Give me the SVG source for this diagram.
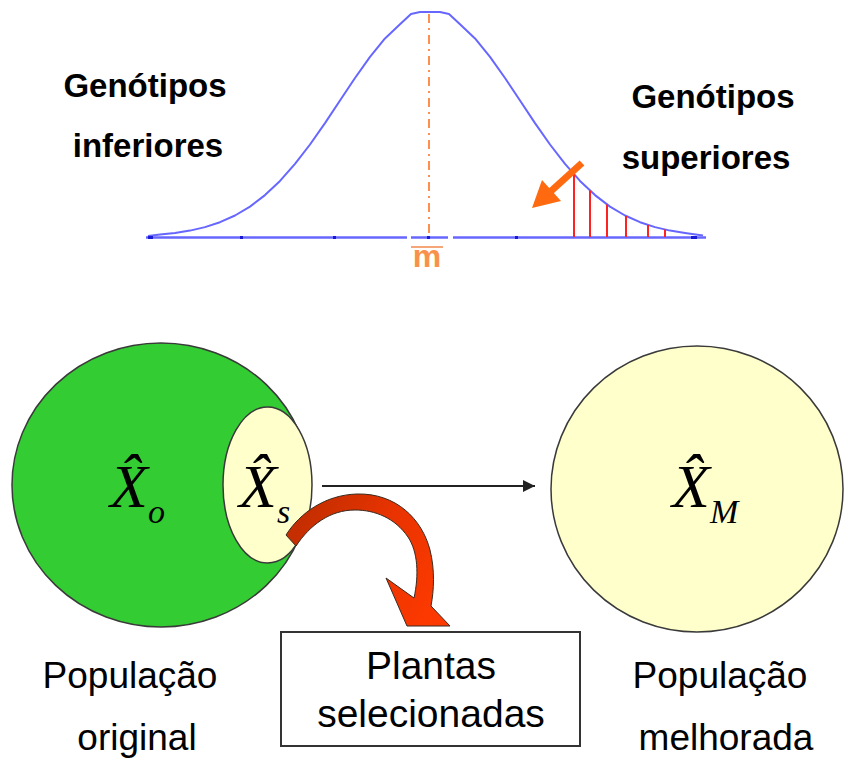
<svg xmlns="http://www.w3.org/2000/svg" width="844" height="763" viewBox="0 0 844 763">
  <defs>
    <style>
      .lbl { font-family: "Liberation Sans", Arial, sans-serif; fill: #000; text-anchor: middle; }
      .top { font-size: 33px; font-weight: bold; }
      .bot { font-size: 37px; }
      .box { font-size: 39px; }
      .math { font-family: "Liberation Serif", "Times New Roman", serif; font-style: italic; fill: #000; }
      .X { font-size: 62px; }
      .sub { font-size: 34px; }
      .curve { fill: none; stroke: #6767ff; stroke-width: 2; stroke-linejoin: round; }
      .red { stroke: #ff2222; stroke-width: 2; }
      .tick { fill: #1a1ad6; }
      .circ { stroke: #3a3a3a; stroke-width: 1.5; }
    </style>
    <marker id="ah" viewBox="0 0 12 12" refX="12" refY="6" markerWidth="12" markerHeight="12" markerUnits="userSpaceOnUse" orient="auto">
      <path d="M0,0 L12,6 L0,12 Z" fill="#222"/>
    </marker>
    <linearGradient id="redg" x1="290" y1="540" x2="440" y2="620" gradientUnits="userSpaceOnUse">
      <stop offset="0" stop-color="#c42e00"/>
      <stop offset="0.45" stop-color="#e83300"/>
      <stop offset="1" stop-color="#ff3a00"/>
    </linearGradient>
  </defs>
  <rect width="844" height="763" fill="#fff"/>

  <!-- Top: distribution curve -->
  <g id="distribution">
    <polyline class="curve" points="148,236 160,234.5 175,232.9 190,230.6 205,227.1 220,222.2 235,215.5 250,206.6 265,195.1 280,180.9 295,163.9 310,144.5 325,123.1 340,100.5 355,78 370,56.8 385,38.4 400,24.2 411,14 420,12 440,12 449,14 460,24.2 475,38.4 490,56.8 505,78 520,100.5 535,123.1 550,144.5 565,163.9 580,180.9 595,195.1 610,206.6 625,215.5 640,222.2 655,227.1 670,230.6 685,232.9 703,235.5"/>
    <g stroke="#6767ff" stroke-width="2.5">
      <line x1="146" y1="237.5" x2="407" y2="237.5"/>
      <line x1="411" y1="237.5" x2="448" y2="237.5"/>
      <line x1="453" y1="237.5" x2="706" y2="237.5"/>
    </g>
    <g class="tick">
      <rect x="148" y="236" width="5" height="3"/>
      <rect x="240" y="236" width="3" height="3"/>
      <rect x="333" y="236" width="3" height="3"/>
      <rect x="427" y="236" width="3" height="3"/>
      <rect x="515" y="236" width="3" height="3"/>
      <rect x="691" y="236" width="6" height="3"/>
    </g>
    <g class="red">
      <line x1="574" y1="174" x2="574" y2="237"/>
      <line x1="590" y1="190.5" x2="590" y2="237"/>
      <line x1="607" y1="204.5" x2="607" y2="237"/>
      <line x1="626" y1="216" x2="626" y2="237"/>
      <line x1="648" y1="225" x2="648" y2="237"/>
      <line x1="665" y1="229.5" x2="665" y2="237"/>
    </g>
  </g>

  <g id="mean">
    <line x1="429" y1="14" x2="429" y2="236" stroke="#ff8f4f" stroke-width="2" stroke-dasharray="9 5 2 5"/>
    <line x1="411" y1="247" x2="443" y2="247" stroke="#f6a77a" stroke-width="2"/>
    <text x="427" y="267" font-family="Liberation Sans, Arial, sans-serif" font-size="32" font-weight="bold" fill="#f8924a" text-anchor="middle">m</text>
  </g>

  <g id="sel-arrow">
    <line x1="582" y1="163" x2="550" y2="192" stroke="#ff6a10" stroke-width="7"/>
    <polygon points="542,180 561,201 532,208" fill="#ff6a10"/>
  </g>

  <g id="label-inferiores">
    <text class="lbl top" x="145" y="97">Genótipos</text>
    <text class="lbl top" x="148" y="157">inferiores</text>
  </g>
  <g id="label-superiores">
    <text class="lbl top" x="713" y="108">Genótipos</text>
    <text class="lbl top" x="706" y="169">superiores</text>
  </g>

  <!-- Bottom: populations -->
  <g id="pop-original">
    <ellipse class="circ" cx="161" cy="485" rx="149" ry="142" fill="#33cc33"/>
    <text class="math" x="110" y="507"><tspan class="X">X̂</tspan><tspan class="sub" dy="16">o</tspan></text>
    <text class="lbl bot" x="130" y="688">População</text>
    <text class="lbl bot" x="137" y="750">original</text>
  </g>

  <g id="pop-selected">
    <ellipse class="circ" cx="267.5" cy="485" rx="44.5" ry="78" fill="#ffffcc"/>
    <text class="math" x="239" y="507"><tspan class="X">X̂</tspan><tspan class="sub" dy="16">s</tspan></text>
  </g>

  <g id="pop-improved">
    <ellipse class="circ" cx="697" cy="489" rx="146" ry="143" fill="#ffffcc"/>
    <text class="math" x="672" y="507"><tspan class="X">X̂</tspan><tspan class="sub" dy="16">M</tspan></text>
    <text class="lbl bot" x="720" y="688">População</text>
    <text class="lbl bot" x="726" y="750">melhorada</text>
  </g>

  <g id="plantas-selecionadas">
    <rect x="281" y="632" width="299" height="114" fill="#fff" stroke="#333" stroke-width="2"/>
    <text class="lbl box" x="431" y="679">Plantas</text>
    <text class="lbl box" x="431" y="727">selecionadas</text>
  </g>

  <g id="connectors">
    <line x1="322" y1="486" x2="535" y2="486" stroke="#222" stroke-width="2" marker-end="url(#ah)"/>
    <path d="M286,535 C300,513 325,495 357,494 C396,493 422,519 430,550 C435,570 434,590 431,606 L450,626 L407,626 L386,578 L414,598 C419,575 418,552 408,537 C395,518 375,510 355,510 C330,510 310,525 296,546 Z" fill="url(#redg)" stroke="#3a2a20" stroke-width="1"/>
  </g>
</svg>
